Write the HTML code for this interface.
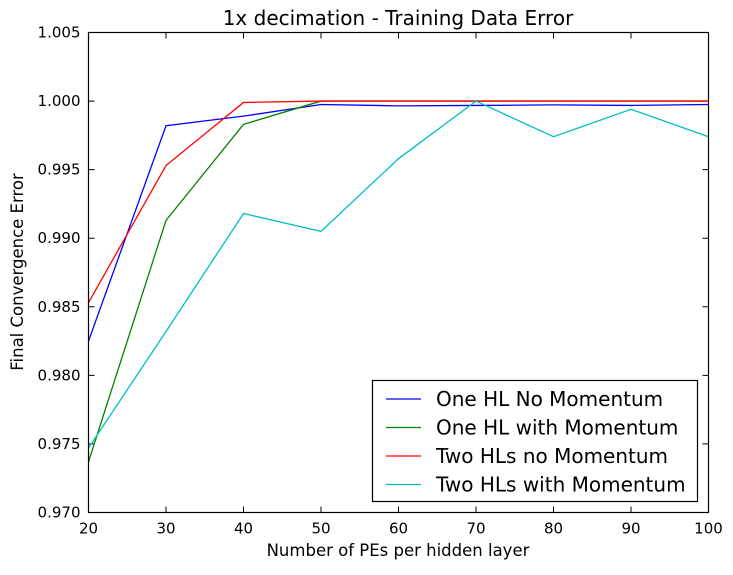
<!DOCTYPE html>
<html><head><meta charset="utf-8"><style>
body{margin:0;background:#fff;}
svg text{font-family:"DejaVu Sans","Liberation Sans",sans-serif;}
</style></head><body>
<svg id="chart" width="733" height="570" xmlns="http://www.w3.org/2000/svg">
<rect width="733" height="570" fill="#fff"/>
<text x="398" y="25" font-size="20" text-anchor="middle">1x decimation - Training Data Error</text>
<g id="grid"></g>
<g id="series"></g>
<rect x="88.5" y="32.5" width="620" height="480" fill="none" stroke="#000" stroke-width="1.2"/>
<text x="398" y="556" font-size="16.5" text-anchor="middle">Number of PEs per hidden layer</text>
<text transform="translate(23,272) rotate(-90)" font-size="16.5" text-anchor="middle">Final Convergence Error</text>
<g id="legend">
<rect x="372.5" y="380.5" width="325" height="121" fill="#fff" stroke="#000" stroke-width="1.2"/>
</g>
</svg>
<script>
const categories=[20,30,40,50,60,70,80,90,100];
const seriesNames=["One HL No Momentum","One HL with Momentum","Two HLs no Momentum","Two HLs with Momentum"];
const seriesColors=["#0000ff","#008000","#ff0000","#00bfbf"];
const oneHLNoMom=[0.9825,0.9982,0.9989,0.99975,0.99965,0.99968,0.99972,0.99968,0.99975];
const oneHLWithMom=[0.9737,0.9913,0.9983,1.0000,1.0000,1.0000,1.0000,1.0000,1.0000];
const twoHLNoMom=[0.9853,0.9953,0.9999,1.0000,1.0000,1.0000,1.0000,1.0000,1.0000];
const twoHLWithMom=[0.9747,0.9832,0.9918,0.9905,0.9958,1.0000,0.9974,0.9994,0.9974];
const xTicks=[20,30,40,50,60,70,80,90,100];
const yTicks=[0.970,0.975,0.980,0.985,0.990,0.995,1.000,1.005];
const allSeries=[oneHLNoMom,oneHLWithMom,twoHLNoMom,twoHLWithMom];
const L=88.5,R=708.5,T=32.5,B=512.5;
const xs=v=>L+(v-20)/(100-20)*(R-L);
const ys=v=>B-(v-0.970)/(1.005-0.970)*(B-T);
const NS="http://www.w3.org/2000/svg";
const svg=document.getElementById('chart');
const grid=document.getElementById('grid');
function mk(tag,attrs,parent){const e=document.createElementNS(NS,tag);for(const k in attrs)e.setAttribute(k,attrs[k]);parent.appendChild(e);return e;}
xTicks.forEach(t=>{const x=xs(t);
 const l=mk('path',{d:`M${x},${B}v-6M${x},${T}v6`,stroke:'#000','stroke-width':1},grid);
 
 
 const tx=mk('text',{x:x,y:B+21,'font-size':15,'text-anchor':'middle'},grid);tx.textContent=t;
 
 
});
yTicks.forEach(t=>{const y=ys(t);
 const l=mk('path',{d:`M${L},${y}h6M${R},${y}h-6`,stroke:'#000','stroke-width':1},grid);
 
 
 const tx=mk('text',{x:L-8,y:y+5,'font-size':15,'text-anchor':'end'},grid);tx.textContent=t.toFixed(3);
 
 
});
const sg=document.getElementById('series');
allSeries.forEach((s,i)=>{
 const p=mk('polyline',{points:s.map((v,j)=>xs(categories[j])+','+ys(v)).join(' '),fill:'none',stroke:seriesColors[i],'stroke-width':1.3},sg);
 
 
});
const lg=document.getElementById('legend');
seriesNames.forEach((n,i)=>{
 const y=399+i*28.5;
 const l=mk('line',{x1:386,x2:421,y1:y,y2:y,stroke:seriesColors[i],'stroke-width':1.3},lg);
 
 
 const t=mk('text',{x:436,y:y+7,'font-size':20},lg);t.textContent=n;
 
 
});
</script>
</body></html>
